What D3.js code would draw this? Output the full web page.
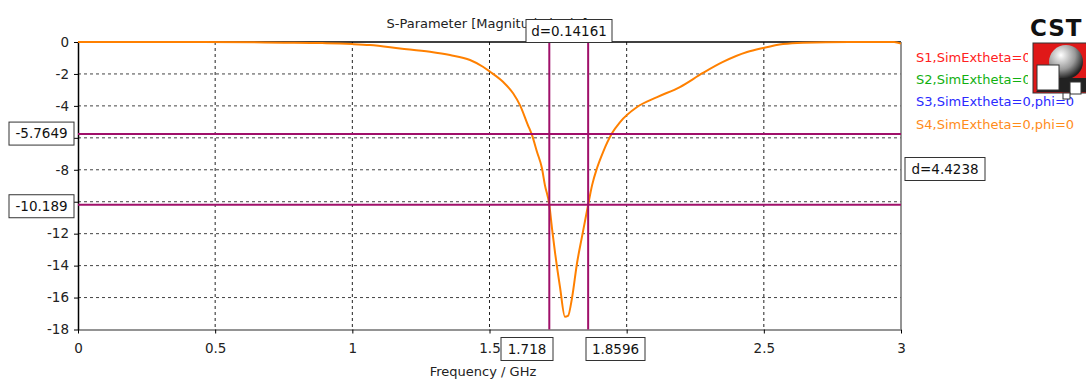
<!DOCTYPE html>
<html>
<head>
<meta charset="utf-8">
<script src="https://cdn.jsdelivr.net/npm/d3@7"></script>
<style>
  body { margin: 0; background: #fff; }
  svg text { font-family: "DejaVu Sans", Verdana, sans-serif; }
</style>
</head>
<body>
<div id="chart"></div>
<script>
// S4 magnitude (GHz, dB)
const freq = [0, 0.45, 0.75, 0.89, 0.955, 1.0, 1.064, 1.174, 1.283, 1.356, 1.429, 1.476, 1.502, 1.549,
  1.586, 1.611, 1.64, 1.655, 1.673, 1.691, 1.702, 1.718, 1.728, 1.739, 1.757, 1.775, 1.786, 1.801,
  1.819, 1.837, 1.8596, 1.874, 1.892, 1.914, 1.947, 1.976, 2.038, 2.111, 2.194, 2.278, 2.351,
  2.439, 2.497, 2.57, 2.643, 2.81, 2.975, 3.0];
const s4 = [0, 0, -0.04, -0.07, -0.1, -0.13, -0.19, -0.4, -0.61, -0.82, -1.13, -1.55, -1.86, -2.49,
  -3.21, -3.95, -5.2, -5.83, -6.87, -7.89, -8.96, -10.189, -11.7, -13.2, -15.35, -17.2, -17.15, -16.0,
  -13.85, -12.2, -10.189, -8.96, -7.89, -6.89, -5.7, -5.01, -4.07, -3.45, -2.82, -1.94, -1.25,
  -0.63, -0.38, -0.13, -0.04, 0, 0, -0.1];

const xTicks = [0, 0.5, 1, 1.5, 2, 2.5, 3];
const yTicks = [0, -2, -4, -6, -8, -10, -12, -14, -16, -18];
// tick labels that sit under a marker readout box
const hiddenX = [2];
const hiddenY = [-6, -10];

const legendNames = ['S1,SimExtheta=0,phi=0', 'S2,SimExtheta=0,phi=0', 'S3,SimExtheta=0,phi=0', 'S4,SimExtheta=0,phi=0'];
const legendColors = ['#ff2020', '#10b010', '#2a2aff', '#ff8c1a'];

// marker readouts
const markerX = [1.718, 1.8596];
const markerY = [-5.7649, -10.189];
const deltaX = '0.14161';
const deltaY = '4.4238';

const W = 1086, H = 379;
const margin = {top: 42, right: 185, bottom: 50, left: 78};
const width = 901 - margin.left;
const height = 329.5 - margin.top;

const svg = d3.select('#chart').append('svg')
  .attr('width', W)
  .attr('height', H);

const g = svg.append('g')
  .attr('transform', `translate(${margin.left},${margin.top})`);

const x = d3.scaleLinear().domain([0, 3]).range([0, width]);
const y = d3.scaleLinear().domain([-18, 0]).range([height, 0]);

// grid
g.append('g').selectAll('line')
  .data(xTicks.slice(1, -1))
  .enter().append('line')
  .attr('x1', d => x(d)).attr('x2', d => x(d))
  .attr('y1', 0).attr('y2', height)
  .attr('stroke', '#222').attr('stroke-dasharray', '3,3');

g.append('g').selectAll('line')
  .data(yTicks.slice(1, -1))
  .enter().append('line')
  .attr('x1', 0).attr('x2', width)
  .attr('y1', d => y(d)).attr('y2', d => y(d))
  .attr('stroke', '#444').attr('stroke-dasharray', '3,3');

// axes
const xAxis = g.append('g')
  .attr('transform', `translate(0,${height})`)
  .call(d3.axisBottom(x).tickValues(xTicks).tickSize(4).tickSizeOuter(0)
    .tickFormat(d => hiddenX.includes(d) ? '' : d));
xAxis.select('.domain').attr('stroke', '#707070').attr('stroke-width', 1.5);
xAxis.selectAll('.tick line').attr('stroke', '#000');
xAxis.selectAll('text').attr('font-size', 13.5).attr('fill', '#222').attr('dy', '1.2em');

const yAxis = g.append('g')
  .call(d3.axisLeft(y).tickValues(yTicks).tickSize(4).tickSizeOuter(0)
    .tickFormat(d => hiddenY.includes(d) ? '' : d));
yAxis.select('.domain').attr('stroke', '#000').attr('stroke-width', 1.5);
yAxis.selectAll('.tick line').attr('stroke', '#000');
yAxis.selectAll('text').attr('font-size', 13.5).attr('fill', '#222').attr('x', -9);

// frame top / right
g.append('line').attr('x1', 0).attr('x2', width).attr('y1', 0).attr('y2', 0)
  .attr('stroke', '#000').attr('stroke-width', 1.5);
g.append('line').attr('x1', width).attr('x2', width).attr('y1', 0).attr('y2', height)
  .attr('stroke', '#707070').attr('stroke-width', 1.5);

// curve
const line = d3.line()
  .x((d, i) => x(freq[i]))
  .y(d => y(d))
  .curve(d3.curveMonotoneX);

g.append('path')
  .datum(s4)
  .attr('fill', 'none')
  .attr('stroke', '#ff8000')
  .attr('stroke-width', 2)
  .attr('d', line);

// markers
const mColor = '#a0106a';
g.selectAll('.mx').data(markerX).enter().append('line')
  .attr('x1', d => x(d)).attr('x2', d => x(d))
  .attr('y1', 0).attr('y2', height)
  .attr('stroke', mColor).attr('stroke-width', 2);
g.selectAll('.my').data(markerY).enter().append('line')
  .attr('x1', 0).attr('x2', width)
  .attr('y1', d => y(d)).attr('y2', d => y(d))
  .attr('stroke', mColor).attr('stroke-width', 2);

// title
svg.append('text')
  .attr('x', 487).attr('y', 28)
  .attr('text-anchor', 'middle')
  .attr('font-size', 13).attr('fill', '#222')
  .text('S-Parameter [Magnitude in dB]');

svg.append('text')
  .attr('x', 483).attr('y', 376)
  .attr('text-anchor', 'middle')
  .attr('font-size', 13).attr('fill', '#222')
  .text('Frequency / GHz');

// boxed labels
function boxLabel(cx, cy, w, txt) {
  const b = svg.append('g').attr('transform', `translate(${cx},${cy})`);
  b.append('rect')
    .attr('x', -w / 2).attr('y', -11.5).attr('width', w).attr('height', 23)
    .attr('fill', '#fff').attr('stroke', '#333').attr('stroke-width', 1);
  b.append('text')
    .attr('text-anchor', 'middle').attr('dy', '0.36em')
    .attr('font-size', 13.5).attr('fill', '#111')
    .text(txt);
}

boxLabel(41.5, margin.top + y(markerY[0]) - 0.5, 65, markerY[0]);
boxLabel(41.5, margin.top + y(markerY[1]) + 1.5, 65, markerY[1]);
boxLabel(945, 169, 80, 'd=' + deltaY);
boxLabel(569, 31, 86, 'd=' + deltaX);
boxLabel(527, 349, 52, markerX[0]);
boxLabel(615.5, 349, 59, markerX[1]);

// legend
const legend = svg.append('g').attr('transform', 'translate(916,57)');
legend.selectAll('text')
  .data(legendNames)
  .enter().append('text')
  .attr('x', 0)
  .attr('y', (d, i) => i * 22.3)
  .attr('dy', '0.36em')
  .attr('font-size', 13)
  .attr('fill', (d, i) => legendColors[i])
  .text(d => d);

// logo
const logo = svg.append('g');
logo.append('rect').attr('x', 1028).attr('y', 40).attr('width', 58).attr('height', 56).attr('fill', '#fff');
logo.append('text')
  .attr('x', 1030).attr('y', 36)
  .attr('font-size', 23).attr('font-weight', 'bold')
  .attr('letter-spacing', 1).attr('fill', '#111')
  .text('CST');
logo.append('rect').attr('x', 1033).attr('y', 43).attr('width', 56).attr('height', 50)
  .attr('fill', '#e01818').attr('stroke', '#333').attr('stroke-width', 1);
const grad = svg.append('defs').append('radialGradient').attr('id', 'sph')
  .attr('cx', '35%').attr('cy', '30%').attr('r', '70%');
grad.append('stop').attr('offset', '0%').attr('stop-color', '#fff');
grad.append('stop').attr('offset', '60%').attr('stop-color', '#999');
grad.append('stop').attr('offset', '100%').attr('stop-color', '#222');
logo.append('circle').attr('cx', 1066).attr('cy', 62).attr('r', 17).attr('fill', 'url(#sph)');
logo.append('path').attr('d', 'M1036,92 L1048,78 L1086,78 L1086,92 Z').attr('fill', '#222');
logo.append('rect').attr('x', 1037).attr('y', 65).attr('width', 22).attr('height', 25)
  .attr('fill', '#fff').attr('stroke', '#333');
logo.append('rect').attr('x', 1070).attr('y', 82).attr('width', 11).attr('height', 12)
  .attr('fill', '#fff').attr('stroke', '#333');
logo.append('rect').attr('x', 1063).attr('y', 93).attr('width', 7).attr('height', 6)
  .attr('fill', '#fff').attr('stroke', '#333');
</script>
</body>
</html>
